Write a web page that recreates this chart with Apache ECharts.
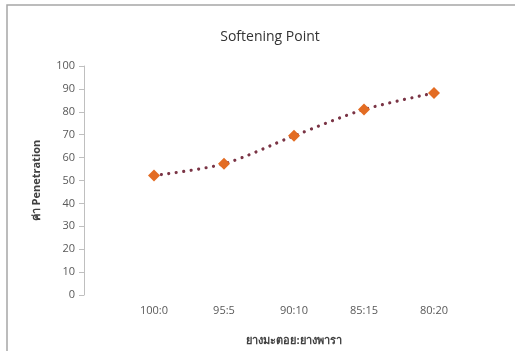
<!DOCTYPE html>
<html>
<head>
<meta charset="utf-8">
<script src="https://cdn.jsdelivr.net/npm/echarts@6/dist/echarts.min.js"></script>
<style>
  html, body { margin: 0; padding: 0; background: #fff; }
  #chart { width: 515px; height: 351px; }
</style>
</head>
<body>
<div id="chart"></div>
<script>
// Blend ratios (asphalt : natural rubber) and measured penetration
const categories = ['100:0', '95:5', '90:10', '85:15', '80:20'];
const penetration = [52.2, 57.3, 69.5, 81, 88.2];
const yTicks = { min: 0, max: 100, interval: 10 };

const chart = echarts.init(document.getElementById('chart'), null, { renderer: 'canvas' });
const font = '"Open Sans", "Noto Sans", sans-serif';

chart.setOption({
  animation: false,
  backgroundColor: '#ffffff',
  graphic: [{
    type: 'rect',
    shape: { x: 7, y: 5, width: 600, height: 400 },
    style: { fill: 'none', stroke: '#a6a6a6', lineWidth: 1.5 },
    silent: true
  }],
  title: {
    text: 'Softening Point',
    left: 265, top: 25, textAlign: 'center',
    textStyle: { fontFamily: font, fontSize: 14, fontWeight: 'normal', color: '#333333' }
  },
  grid: { left: 119, top: 66, width: 350, height: 229, containLabel: false },
  xAxis: {
    type: 'category',
    data: categories,
    boundaryGap: true,
    axisLine: { show: false },
    axisTick: { show: false },
    axisLabel: { margin: 10, fontFamily: font, fontSize: 11, color: '#595959' },
    name: 'ยางมะตอย:ยางพารา',
    nameLocation: 'middle',
    nameGap: 40,
    nameTextStyle: { fontFamily: font, fontSize: 11, fontWeight: 'bold', color: '#404040' }
  },
  yAxis: {
    type: 'value',
    min: yTicks.min, max: yTicks.max, interval: yTicks.interval,
    offset: 35,
    axisLine: { show: true, lineStyle: { color: '#bfbfbf', width: 1 } },
    axisTick: { show: true, inside: false, length: 5, lineStyle: { color: '#bfbfbf' } },
    splitLine: { show: false },
    axisLabel: { margin: 9, fontFamily: font, fontSize: 11, color: '#595959' },
    name: 'ค่า Penetration',
    nameLocation: 'middle',
    nameRotate: 90,
    nameGap: 42,
    nameTextStyle: { fontFamily: font, fontSize: 11, fontWeight: 'bold', color: '#404040' }
  },
  series: [{
    type: 'line',
    data: penetration,
    smooth: 0.3,
    symbol: 'diamond',
    symbolSize: 12,
    itemStyle: { color: '#e36c23' },
    lineStyle: { color: '#7a3445', width: 3.2, type: [0.01, 7.5], cap: 'round' },
    z: 3
  }]
});
</script>
</body>
</html>
